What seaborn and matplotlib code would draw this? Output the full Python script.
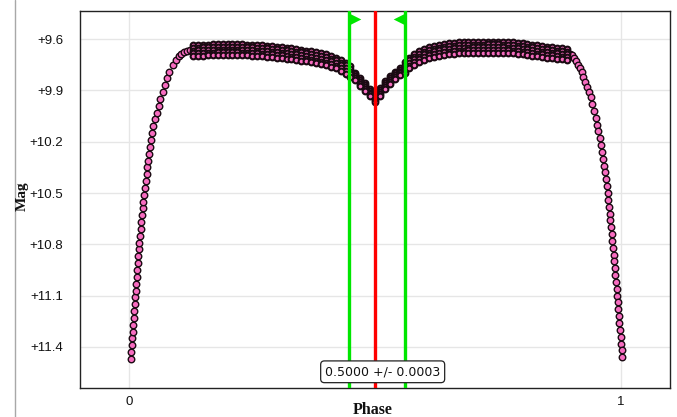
import numpy as np
import pandas as pd
import matplotlib
matplotlib.use("Agg")
import matplotlib.pyplot as plt
import matplotlib.transforms as mtransforms
from matplotlib.path import Path
from matplotlib.lines import Line2D
import seaborn as sns

# ---------------- data ----------------
left_branch_phase = [0.0035, 0.0045, 0.0054, 0.0064, 0.0073, 0.0082, 0.0092, 0.0101, 0.0111, 0.0121,
                     0.0131, 0.0140, 0.0150, 0.0160, 0.0170, 0.0180, 0.0190, 0.0202, 0.0216, 0.0231,
                     0.0245, 0.0260, 0.0274, 0.0289, 0.0303, 0.0318, 0.0336, 0.0353, 0.0370, 0.0387,
                     0.0405, 0.0426, 0.0449, 0.0472, 0.0494, 0.0522, 0.0560, 0.0598, 0.0637, 0.0680,
                     0.0723, 0.0767, 0.0820, 0.0885, 0.0950, 0.1010, 0.1060, 0.1120, 0.1180, 0.1240]
left_branch_mag = [11.47, 11.43, 11.39, 11.35, 11.31, 11.27, 11.23, 11.19, 11.15, 11.11,
                   11.07, 11.03, 10.99, 10.95, 10.91, 10.87, 10.83, 10.79, 10.75, 10.71,
                   10.67, 10.63, 10.59, 10.55, 10.51, 10.47, 10.43, 10.39, 10.35, 10.31,
                   10.27, 10.23, 10.19, 10.15, 10.11, 10.07, 10.03, 9.99, 9.95, 9.91,
                   9.87, 9.83, 9.79, 9.75, 9.72, 9.70, 9.685, 9.675, 9.668, 9.665]

right_branch_phase = [0.8960, 0.9010, 0.9050, 0.9090, 0.9130, 0.9170, 0.9203, 0.9240, 0.9280, 0.9320,
                      0.9350, 0.9390, 0.9420, 0.9457, 0.9490, 0.9520, 0.9545, 0.9568, 0.9591, 0.9614,
                      0.9636, 0.9655, 0.9674, 0.9692, 0.9711, 0.9730, 0.9744, 0.9757, 0.9771, 0.9784,
                      0.9798, 0.9811, 0.9825, 0.9838, 0.9851, 0.9864, 0.9877, 0.9889, 0.9902, 0.9915,
                      0.9928, 0.9939, 0.9950, 0.9961, 0.9972, 0.9983, 0.9994, 1.0006, 1.0017, 1.0028]
right_branch_mag = [9.685, 9.695, 9.71, 9.73, 9.75, 9.77, 9.79, 9.82, 9.85, 9.88,
                    9.91, 9.94, 9.98, 10.02, 10.06, 10.10, 10.14, 10.18, 10.22, 10.26,
                    10.30, 10.34, 10.38, 10.42, 10.46, 10.50, 10.54, 10.58, 10.62, 10.66,
                    10.70, 10.74, 10.78, 10.82, 10.86, 10.90, 10.94, 10.98, 11.02, 11.06,
                    11.10, 11.14, 11.18, 11.22, 11.26, 11.30, 11.34, 11.38, 11.42, 11.46]

band_phase = [0.13, 0.14, 0.15, 0.16, 0.17, 0.18, 0.19, 0.20, 0.21, 0.22,
              0.23, 0.24, 0.25, 0.26, 0.27, 0.28, 0.29, 0.30, 0.31, 0.32,
              0.33, 0.34, 0.35, 0.36, 0.37, 0.38, 0.39, 0.40, 0.41, 0.42,
              0.43, 0.44, 0.45, 0.46, 0.47, 0.48, 0.49, 0.50, 0.51, 0.52,
              0.53, 0.54, 0.55, 0.56, 0.57, 0.58, 0.59, 0.60, 0.61, 0.62,
              0.63, 0.64, 0.65, 0.66, 0.67, 0.68, 0.69, 0.70, 0.71, 0.72,
              0.73, 0.74, 0.75, 0.76, 0.77, 0.78, 0.79, 0.80, 0.81, 0.82,
              0.83, 0.84, 0.85, 0.86, 0.87, 0.88, 0.89]
band_row1 = [9.636, 9.634, 9.633, 9.632, 9.631, 9.630, 9.630, 9.630, 9.630, 9.630,
             9.631, 9.632, 9.633, 9.635, 9.637, 9.639, 9.641, 9.644, 9.647, 9.650,
             9.654, 9.658, 9.662, 9.667, 9.672, 9.678, 9.684, 9.690, 9.698, 9.708,
             9.722, 9.738, 9.758, 9.796, 9.828, 9.858, 9.891, 9.923, 9.886, 9.848,
             9.816, 9.790, 9.768, 9.735, 9.708, 9.686, 9.670, 9.658, 9.648, 9.640,
             9.634, 9.629, 9.625, 9.622, 9.620, 9.619, 9.618, 9.617, 9.616, 9.616,
             9.615, 9.615, 9.615, 9.616, 9.618, 9.620, 9.622, 9.625, 9.629, 9.633,
             9.637, 9.641, 9.645, 9.648, 9.651, 9.654, 9.657]
band_row2 = [9.652, 9.650, 9.649, 9.648, 9.647, 9.646, 9.646, 9.646, 9.646, 9.646,
             9.647, 9.648, 9.649, 9.651, 9.653, 9.655, 9.657, 9.660, 9.663, 9.666,
             9.670, 9.674, 9.678, 9.683, 9.688, 9.694, 9.700, 9.706, 9.714, 9.724,
             9.738, 9.754, 9.774, 9.807, 9.839, 9.869, 9.902, 9.934, 9.897, 9.859,
             9.827, 9.801, 9.779, 9.751, 9.724, 9.702, 9.686, 9.674, 9.664, 9.656,
             9.650, 9.645, 9.641, 9.638, 9.636, 9.635, 9.634, 9.633, 9.632, 9.632,
             9.631, 9.631, 9.631, 9.632, 9.634, 9.636, 9.638, 9.641, 9.645, 9.649,
             9.653, 9.657, 9.661, 9.664, 9.667, 9.670, 9.673]
band_row3 = [9.668, 9.666, 9.665, 9.664, 9.663, 9.662, 9.662, 9.662, 9.662, 9.662,
             9.663, 9.664, 9.665, 9.667, 9.669, 9.671, 9.673, 9.676, 9.679, 9.682,
             9.686, 9.690, 9.694, 9.699, 9.704, 9.710, 9.716, 9.722, 9.730, 9.740,
             9.754, 9.770, 9.790, 9.818, 9.850, 9.880, 9.913, 9.945, 9.908, 9.870,
             9.838, 9.812, 9.790, 9.767, 9.740, 9.718, 9.702, 9.690, 9.680, 9.672,
             9.666, 9.661, 9.657, 9.654, 9.652, 9.651, 9.650, 9.649, 9.648, 9.648,
             9.647, 9.647, 9.647, 9.648, 9.650, 9.652, 9.654, 9.657, 9.661, 9.665,
             9.669, 9.673, 9.677, 9.680, 9.683, 9.686, 9.689]
band_row4 = [9.684, 9.682, 9.681, 9.680, 9.679, 9.678, 9.678, 9.678, 9.678, 9.678,
             9.679, 9.680, 9.681, 9.683, 9.685, 9.687, 9.689, 9.692, 9.695, 9.698,
             9.702, 9.706, 9.710, 9.715, 9.720, 9.726, 9.732, 9.738, 9.746, 9.756,
             9.770, 9.786, 9.806, 9.829, 9.861, 9.891, 9.924, 9.956, 9.919, 9.881,
             9.849, 9.823, 9.801, 9.783, 9.756, 9.734, 9.718, 9.706, 9.696, 9.688,
             9.682, 9.677, 9.673, 9.670, 9.668, 9.667, 9.666, 9.665, 9.664, 9.664,
             9.663, 9.663, 9.663, 9.664, 9.666, 9.668, 9.670, 9.673, 9.677, 9.681,
             9.685, 9.689, 9.693, 9.696, 9.699, 9.702, 9.705]
band_row5 = [9.700, 9.698, 9.697, 9.696, 9.695, 9.694, 9.694, 9.694, 9.694, 9.694,
             9.695, 9.696, 9.697, 9.699, 9.701, 9.703, 9.705, 9.708, 9.711, 9.714,
             9.718, 9.722, 9.726, 9.731, 9.736, 9.742, 9.748, 9.754, 9.762, 9.772,
             9.786, 9.802, 9.822, 9.840, 9.872, 9.902, 9.935, 9.967, 9.930, 9.892,
             9.860, 9.834, 9.812, 9.799, 9.772, 9.750, 9.734, 9.722, 9.712, 9.704,
             9.698, 9.693, 9.689, 9.686, 9.684, 9.683, 9.682, 9.681, 9.680, 9.680,
             9.679, 9.679, 9.679, 9.680, 9.682, 9.684, 9.686, 9.689, 9.693, 9.697,
             9.701, 9.705, 9.709, 9.712, 9.715, 9.718, 9.721]

min_phase = 0.5000
min_error = 0.0003
window_left = 0.447
window_right = 0.560
x_ticks = [0, 1]
x_tick_labels = ["0", "1"]
y_ticks = [9.6, 9.9, 10.2, 10.5, 10.8, 11.1, 11.4]
y_tick_labels = ["+9.6", "+9.9", "+10.2", "+10.5", "+10.8", "+11.1", "+11.4"]
x_label = "Phase"
y_label = "Mag"

# ---------------- figure ----------------
sns.set_theme(style="white")
plt.rcParams["font.family"] = ["Liberation Sans", "DejaVu Sans"]

fig = plt.figure(figsize=(6.77, 4.17), dpi=100)
ax = fig.add_axes([80 / 677, 29 / 417, 590 / 677, 377 / 417])

band_df = pd.DataFrame({
    "phase": band_phase * 5,
    "mag": band_row1 + band_row2 + band_row3 + band_row4 + band_row5,
})
branch_df = pd.DataFrame({
    "phase": left_branch_phase + right_branch_phase,
    "mag": left_branch_mag + right_branch_mag,
})

pink = "#f76cc0"
edge = "#1a0a12"
sns.scatterplot(data=branch_df, x="phase", y="mag", ax=ax, color=pink,
                edgecolor=edge, linewidth=1.0, s=22, legend=False, zorder=3)
sns.scatterplot(data=band_df, x="phase", y="mag", ax=ax, color=pink,
                edgecolor=edge, linewidth=1.5, s=17, legend=False, zorder=3)

ax.set_xlim(-0.1, 1.1)
ax.set_ylim(11.64, 9.436)

ax.set_xticks(x_ticks)
ax.set_xticklabels(x_tick_labels)
ax.set_yticks(y_ticks)
ax.set_yticklabels(y_tick_labels)
ax.tick_params(axis="y", length=0, pad=12, labelsize=9.5, labelcolor="#111111")
ax.tick_params(axis="x", length=0, pad=6, labelsize=9.5, labelcolor="#111111")

ax.grid(True, color="#e6e6e6", linewidth=1.0, zorder=0)
ax.set_axisbelow(True)
for sp in ax.spines.values():
    sp.set_color("#222222")
    sp.set_linewidth(1.0)

ax.set_xlabel("")
ax.set_ylabel("")

# vertical lines
green = "#00e600"
ax.axvline(window_left, color=green, lw=2.4, zorder=4)
ax.axvline(window_right, color=green, lw=2.4, zorder=4)
ax.axvline(min_phase, color="#ff0000", lw=2.4, zorder=5)

# flags
trans = mtransforms.blended_transform_factory(ax.transData, ax.transAxes)
flag_r = Path([(0, 1), (0, -1), (2, 0), (0, 1)], [Path.MOVETO, Path.LINETO, Path.LINETO, Path.CLOSEPOLY])
flag_l = Path([(0, 1), (0, -1), (-2, 0), (0, 1)], [Path.MOVETO, Path.LINETO, Path.LINETO, Path.CLOSEPOLY])
ax.plot([window_left], [0.979], marker=flag_r, color=green, markersize=17,
        markeredgewidth=0, transform=trans, clip_on=False, zorder=6)
ax.plot([window_right], [0.979], marker=flag_l, color=green, markersize=17,
        markeredgewidth=0, transform=trans, clip_on=False, zorder=6)

# label box
ax.text(0.513, 0.043, f"{min_phase:.4f} +/- {min_error:.4f}", transform=ax.transAxes,
        ha="center", va="center", fontsize=9, color="#111111",
        family=["DejaVu Sans"], zorder=7,
        bbox=dict(boxstyle="round,pad=0.35,rounding_size=0.3", fc="white", ec="#222222", lw=0.9))

# axis labels
fig.text(373 / 677, 1 - 410 / 417, x_label, ha="center", va="center",
         fontsize=11.5, fontweight="bold", family=["Liberation Serif", "DejaVu Serif"], color="#111111")
fig.text(22 / 677, 1 - 196 / 417, y_label, ha="center", va="center", rotation=90,
         fontsize=11, fontweight="bold", family=["Liberation Serif", "DejaVu Serif"], color="#111111")

# separator line at far left
fig.add_artist(Line2D([15 / 677, 15 / 677], [0, 1], transform=fig.transFigure,
                      color="#a8a8a8", lw=1.0))

fig.savefig("out.png", dpi=100)
